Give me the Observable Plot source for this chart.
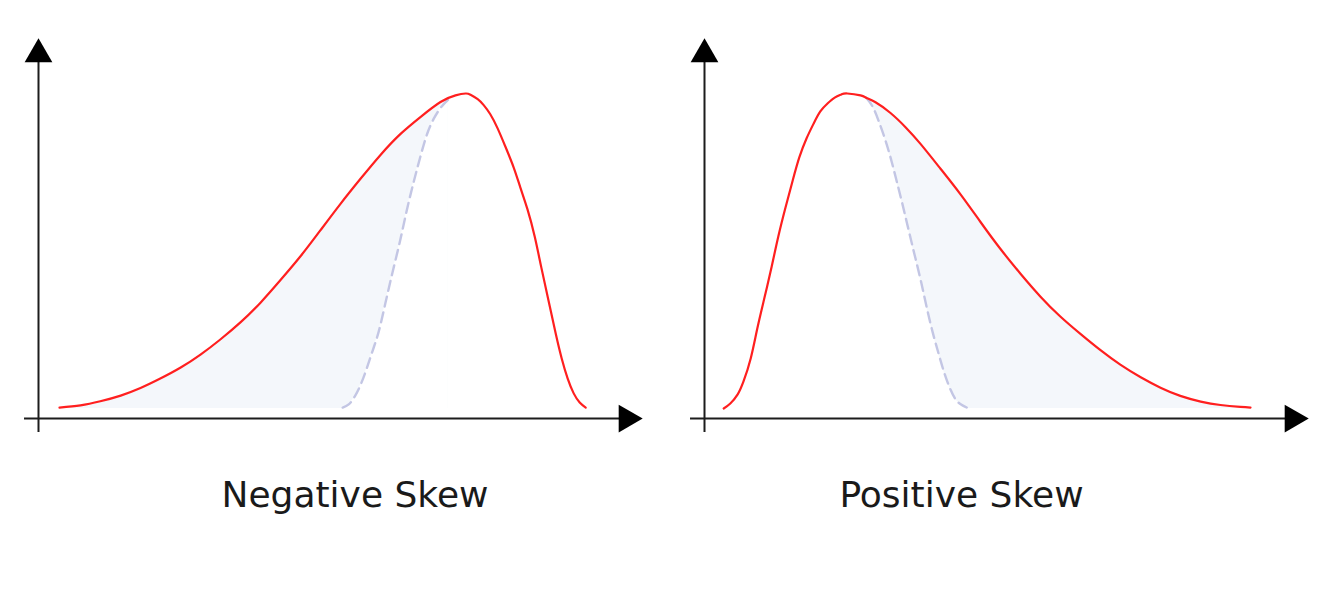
<!DOCTYPE html>
<html>
<head>
<meta charset="utf-8">
<script src="https://cdn.jsdelivr.net/npm/d3@7"></script>
<script src="https://cdn.jsdelivr.net/npm/@observablehq/plot@0.6"></script>
<style>
  html, body { margin: 0; padding: 0; background: #fff; }
  #wrap { display: flex; width: 1342px; height: 601px; overflow: hidden; }
  svg { display: block; }
</style>
</head>
<body>
<div id="wrap"></div>
<script>
// ---- Data (x: horizontal units from the y-axis, y: density, peak = 1) ----
const labels = ["Negative Skew", "Positive Skew"];

// Negative skew: skewed (red) curve
const negRedX = [0.35, 0.70, 1.03, 1.37, 1.70, 2.03, 2.37, 2.70, 3.03, 3.37, 3.70, 4.03, 4.37, 4.70, 5.03, 5.37, 5.70, 6.03, 6.37, 6.70, 6.95, 7.12, 7.20, 7.32, 7.42, 7.53, 7.65, 7.78, 7.92, 8.03, 8.15, 8.27, 8.38, 8.50, 8.62, 8.72, 8.82, 8.92, 9.02, 9.12];
const negRedY = [0.003, 0.010, 0.023, 0.041, 0.065, 0.095, 0.130, 0.171, 0.219, 0.274, 0.336, 0.407, 0.484, 0.566, 0.649, 0.730, 0.805, 0.871, 0.926, 0.973, 0.994, 1.000, 0.996, 0.982, 0.963, 0.934, 0.890, 0.832, 0.765, 0.702, 0.632, 0.546, 0.448, 0.343, 0.238, 0.159, 0.095, 0.048, 0.019, 0.003];
// Negative skew: symmetric reference (dashed) curve
const negDashX = [5.07, 5.17, 5.27, 5.37, 5.47, 5.57, 5.67, 5.78, 5.90, 6.02, 6.13, 6.25, 6.37, 6.48, 6.60, 6.72, 6.83];
const negDashY = [0.003, 0.013, 0.038, 0.076, 0.127, 0.184, 0.244, 0.333, 0.432, 0.527, 0.622, 0.717, 0.803, 0.873, 0.924, 0.959, 0.981];

// Positive skew: skewed (red) curve
const posRedX = [0.32, 0.43, 0.55, 0.65, 0.77, 0.88, 1.00, 1.12, 1.23, 1.35, 1.47, 1.58, 1.70, 1.82, 1.93, 2.05, 2.17, 2.28, 2.38, 2.60, 2.70, 2.85, 3.10, 3.35, 3.60, 3.93, 4.27, 4.60, 4.93, 5.27, 5.60, 5.93, 6.27, 6.60, 6.93, 7.27, 7.60, 7.93, 8.27, 8.60, 8.93, 9.10];
const posRedY = [0.000, 0.016, 0.044, 0.086, 0.159, 0.254, 0.352, 0.451, 0.546, 0.638, 0.724, 0.797, 0.857, 0.905, 0.943, 0.968, 0.987, 0.997, 1.000, 0.994, 0.986, 0.972, 0.938, 0.893, 0.840, 0.762, 0.679, 0.592, 0.507, 0.427, 0.355, 0.292, 0.236, 0.185, 0.139, 0.099, 0.066, 0.040, 0.022, 0.011, 0.005, 0.003];
// Positive skew: symmetric reference (dashed) curve
const posDashX = [2.70, 2.80, 2.90, 3.00, 3.10, 3.20, 3.30, 3.40, 3.50, 3.60, 3.70, 3.80, 3.90, 4.00, 4.10, 4.20, 4.30, 4.37];
const posDashY = [0.986, 0.959, 0.914, 0.860, 0.797, 0.724, 0.648, 0.568, 0.489, 0.410, 0.324, 0.244, 0.175, 0.111, 0.060, 0.025, 0.010, 0.003];

// Axis extents (data units)
const xAxisY = -0.032, xAxisFrom = -0.233, xAxisTip = 10.07;
const yAxisX = 0, yAxisFrom = -0.076, yAxisTip = 1.175;
const labelPos = [{x: 5.275, y: -0.275}, {x: 4.283, y: -0.275}];
const xDomains = [[-0.6333, 10.55], [-0.55, 10.633]];
const yDomain = [-0.6127, 1.2952];

const zip = (xs, ys) => xs.map((x, i) => ({x, y: ys[i]}));

const RED = "#ff1f1f", DASH = "#c3c6e4", FILL = "#f4f7fb", AXIS = "#1c1c1c";
const CURVE = "natural";

function panel(i) {
  const neg = i === 0;
  const red = neg ? zip(negRedX, negRedY) : zip(posRedX, posRedY);
  const dash = neg ? zip(negDashX, negDashY) : zip(posDashX, posDashY);
  const mergeX = dash.find(d => d.y === d3.max(dash, e => e.y)).x;
  const shadeRed = neg ? red.filter(d => d.x < mergeX) : red.filter(d => d.x > mergeX);
  const shade = neg ? [...shadeRed, dash[dash.length - 1]] : [dash[0], ...shadeRed];
  return Plot.plot({
    width: 671,
    height: 601,
    margin: 0,
    x: {domain: xDomains[i], axis: null},
    y: {domain: yDomain, axis: null},
    marks: [
      Plot.areaY(shade, {x: "x", y: "y", fill: FILL, curve: CURVE}),
      Plot.areaY(dash, {x: "x", y: "y", fill: "#ffffff", curve: CURVE}),
      Plot.line(dash, {x: "x", y: "y", stroke: DASH, strokeWidth: 2.4, strokeDasharray: "10,6", curve: CURVE}),
      Plot.line(red, {x: "x", y: "y", stroke: RED, strokeWidth: 2.2, curve: CURVE}),
      Plot.ruleX([yAxisX], {y1: yAxisFrom, y2: yAxisTip - 0.05, stroke: AXIS, strokeWidth: 2}),
      Plot.ruleY([xAxisY], {x1: xAxisFrom, x2: xAxisTip - 0.2, stroke: AXIS, strokeWidth: 2}),
      Plot.dot([{x: yAxisX, y: yAxisTip}], {x: "x", y: "y", symbol: "triangle", r: 10.3, fill: "#000", stroke: "none", dy: 16}),
      Plot.dot([{x: xAxisTip, y: xAxisY}], {x: "x", y: "y", symbol: "triangle", r: 10.3, fill: "#000", stroke: "none", rotate: 90, dx: -16}),
      Plot.text([labels[i]], {x: () => labelPos[i].x, y: () => labelPos[i].y, text: d => d, fontSize: 36, fontFamily: "DejaVu Sans", fill: "#1a1a1a", textAnchor: "middle", lineAnchor: "middle"})
    ]
  });
}

const wrap = document.getElementById("wrap");
wrap.appendChild(panel(0));
wrap.appendChild(panel(1));
</script>
</body>
</html>
